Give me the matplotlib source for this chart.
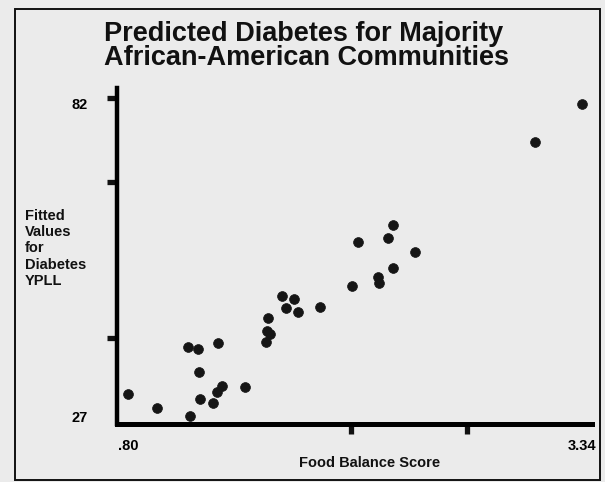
#Scatter of predicted diabetes YPLL against food balance score

import numpy as np
import matplotlib
matplotlib.use("Agg")
import matplotlib.pyplot as plt
from matplotlib.patches import Rectangle

#data
food_balance = [0.80, 0.964, 1.147, 1.134, 1.193, 1.305, 1.199, 1.328, 1.296,
                1.455, 1.203, 1.277, 1.583, 1.576, 1.595, 1.572, 1.662, 1.729,
                1.684, 1.751, 1.874, 2.052, 2.089, 2.197, 2.205, 2.253, 2.281,
                2.281, 2.406, 3.078, 3.34]
fitted_ypll = [30.9, 28.4, 27.0, 39.1, 38.8, 39.9, 34.8, 32.3, 31.3,
               32.2, 30.0, 29.3, 44.2, 42.0, 41.5, 40.1, 48.2, 47.6,
               46.0, 45.4, 46.3, 49.9, 57.7, 51.5, 50.5, 58.4, 60.7,
               53.1, 55.9, 75.3, 82.0]

x_labels = [".80", "3.34"]
x_label_pos = [0.80, 3.34]
x_marks = [2.05, 2.70]
y_labels = ["27", "82"]
y_label_pos = [27, 82]
y_marks = [40.8, 68.2, 83.0]

title = "Predicted Diabetes for Majority\nAfrican-American Communities"
x_title = "Food Balance Score"
y_title = "Fitted\nValues\nfor\nDiabetes\nYPLL"

plt.rcParams['font.family'] = ['Liberation Sans', 'DejaVu Sans']
bg = '#ebebeb'

fig = plt.figure(figsize=(6.05, 4.82), dpi=100, facecolor=bg)
W, H = 605, 482

def px(x, y):
    # pixel coords (top-left origin) -> figure fraction
    return x / W, 1 - y / H

# axes box spans x 117..592, y 88..424 pixels
ax = fig.add_axes([117 / W, 1 - 424 / H, (592 - 117) / W, (424 - 88) / H])
ax.set_facecolor(bg)

ax.scatter(food_balance, fitted_ypll, s=50, color='#151515', edgecolors='#151515',
           linewidths=0.5, zorder=3, clip_on=False)

ax.set_xlim(0.738, 3.397)
ax.set_ylim(25.6, 84.8)

for side in ['top', 'right']:
    ax.spines[side].set_visible(False)
ax.spines['left'].set_linewidth(3.2)
ax.spines['bottom'].set_linewidth(3.6)
ax.spines['left'].set_capstyle('projecting')
ax.spines['bottom'].set_capstyle('projecting')

ax.set_xticks(x_label_pos)
ax.set_xticklabels(x_labels, fontsize=10.5, fontweight='bold')
ax.set_yticks(y_label_pos)
ax.set_yticklabels(y_labels, fontsize=10.5, fontweight='bold')
ax.tick_params(axis='both', which='major', length=0)
ax.tick_params(axis='x', which='major', pad=11)
ax.tick_params(axis='y', which='major', pad=21)

ax.set_xticks(x_marks, minor=True)
ax.set_yticks(y_marks, minor=True)
ax.tick_params(axis='both', which='minor', length=7, width=3.8, color='#111111',
               direction='out')

# title and axis titles placed as figure text
fx, fy = px(104, 71)
fig.text(fx, fy, title, fontsize=19.5, fontweight='bold', ha='left', va='bottom',
         linespacing=0.9, color='#111111')
fx, fy = px(370, 463)
fig.text(fx, fy, x_title, fontsize=10.5, fontweight='bold', ha='center', va='center',
         color='#111111')
fx, fy = px(25, 209)
fig.text(fx, fy, y_title, fontsize=10.5, fontweight='bold', ha='left', va='top',
         linespacing=1.2, color='#111111')

# scanned page border
fig.patches.append(Rectangle((15 / W, 2 / H), (600 - 15) / W, (480 - 9) / H,
                             transform=fig.transFigure, fill=False,
                             edgecolor='#111111', linewidth=1.4))

fig.savefig("out.png", dpi=100, facecolor=bg)
